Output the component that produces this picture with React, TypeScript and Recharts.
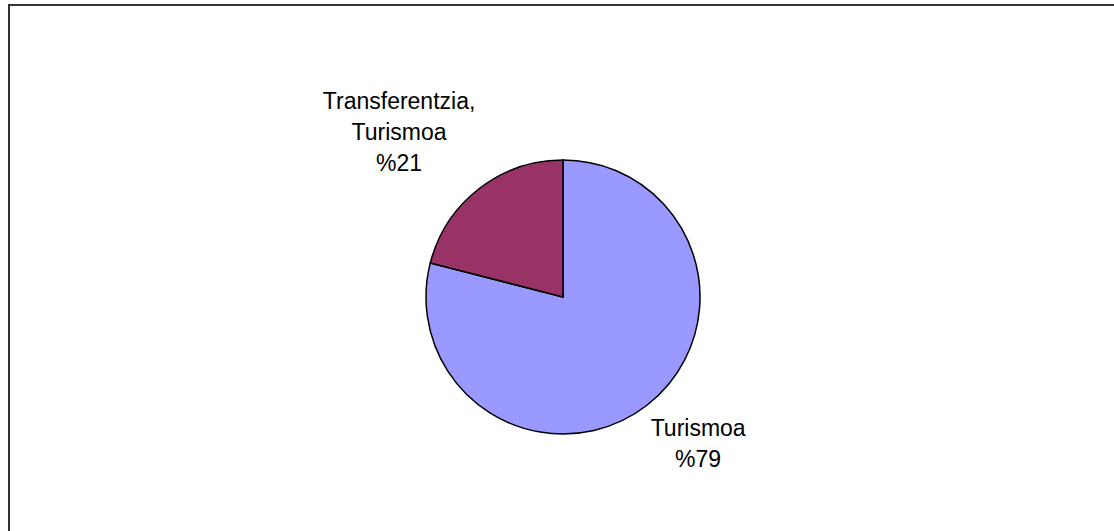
import React from "react";
import { PieChart, Pie, Cell } from "recharts";

const categories = ["Turismoa", "Transferentzia, Turismoa"];
const values = [79, 21];
const colors = ["#9999FF", "#993366"];

const data = categories.map((name, i) => ({ name, value: values[i] }));

const FONT = "'Liberation Sans', Arial, sans-serif";
const FONT_SIZE = 23;
const LINE_H = 31;

let ctx: CanvasRenderingContext2D | null = null;
function measure(t: string): number {
  if (!ctx) {
    const c = document.createElement("canvas");
    ctx = c.getContext("2d");
  }
  if (!ctx) return t.length * FONT_SIZE * 0.55;
  ctx.font = `${FONT_SIZE}px ${FONT}`;
  return ctx.measureText(t).width;
}

const RAD = Math.PI / 180;

function renderLabel(props: any) {
  const { cx, cy, midAngle, outerRadius, name, value } = props;
  const parts = String(name).split(", ");
  const lines = parts.map((p: string, i: number) => (i < parts.length - 1 ? p + "," : p));
  lines.push("%" + value);
  const r = outerRadius + 6;
  const ax = cx + r * Math.cos(-midAngle * RAD);
  const ay = cy + r * Math.sin(-midAngle * RAD);
  const w = Math.max(...lines.map(measure));
  const n = lines.length;
  const left = Math.cos(-midAngle * RAD) < 0;
  const up = Math.sin(-midAngle * RAD) < 0;
  const centerX = left ? ax - w / 2 : ax + w / 2;
  const baseline = (i: number) =>
    up ? ay - 13 - (n - 1 - i) * LINE_H : ay + 26 + i * LINE_H;
  return (
    <text
      x={centerX}
      y={baseline(0)}
      textAnchor="middle"
      fontFamily={FONT}
      fontSize={FONT_SIZE}
      fill="#000"
    >
      {lines.map((l: string, i: number) => (
        <tspan key={i} x={centerX} y={baseline(i)}>
          {l}
        </tspan>
      ))}
    </text>
  );
}

export default function App() {
  return (
    <div style={{ position: "absolute", left: 0, top: 0, width: 1114, height: 531, background: "#fff", overflow: "hidden" }}>
      <div
        style={{
          position: "absolute",
          left: 8,
          top: 4,
          width: 1200,
          height: 600,
          borderTop: "2px solid #333",
          borderLeft: "2px solid #333",
        }}
      />
      <div style={{ position: "absolute", left: 0, top: 0 }}>
        <PieChart width={1114} height={531} margin={{ top: 0, right: 0, bottom: 0, left: 0 }}>
          <Pie
            data={data}
            dataKey="value"
            nameKey="name"
            cx={563}
            cy={297}
            outerRadius={137}
            startAngle={90}
            endAngle={-270}
            stroke="#000"
            strokeWidth={1.5}
            label={renderLabel}
            labelLine={false}
            isAnimationActive={false}
          >
            {data.map((d, i) => (
              <Cell key={d.name} fill={colors[i]} />
            ))}
          </Pie>
        </PieChart>
      </div>
    </div>
  );
}
